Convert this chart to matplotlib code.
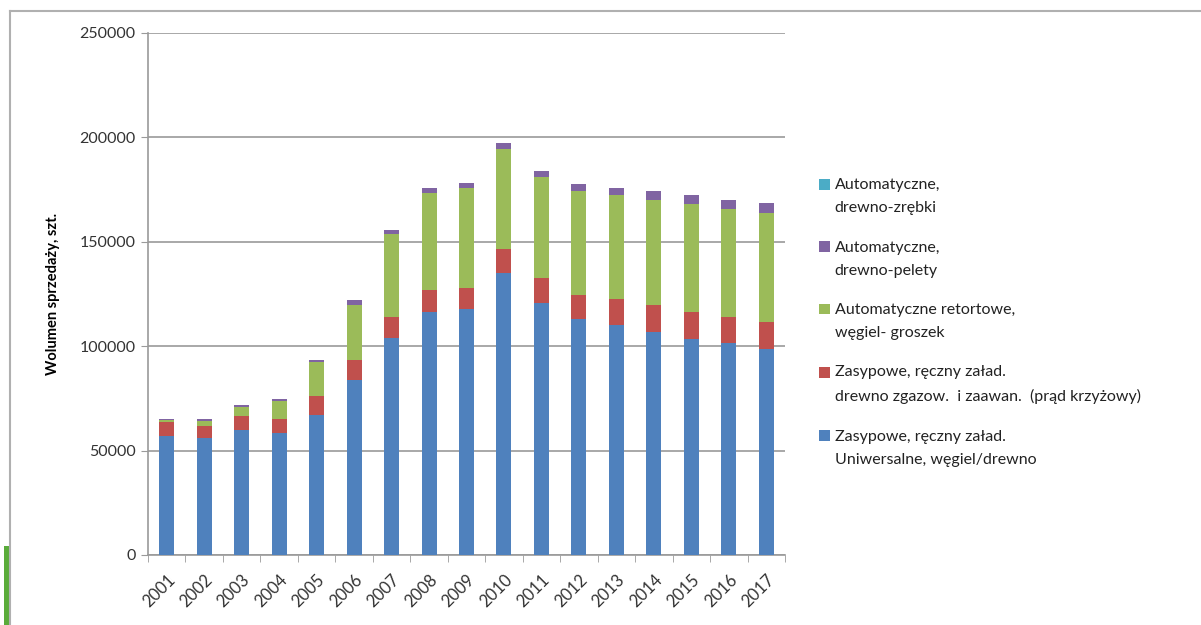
import matplotlib
matplotlib.use("Agg")
import matplotlib.pyplot as plt
import numpy as np
from matplotlib.lines import Line2D
from matplotlib.patches import Rectangle
from matplotlib.container import BarContainer
from matplotlib.legend_handler import HandlerPatch, update_from_first_child

plt.rcParams['font.family'] = ['Lato', 'DejaVu Sans']

years = [str(y) for y in range(2001, 2018)]

# sales volume per boiler type, units
uniwersalne = [57000, 56000, 60000, 58300, 67000, 84000, 103800, 116600, 117900,
               135000, 120600, 112900, 110200, 106700, 103500, 101700, 98600]
zgazowujace = [6900, 5800, 6700, 6700, 9200, 9400, 10400, 10400, 10200,
               11600, 12000, 11700, 12300, 13100, 13100, 12500, 13200]
retortowe = [700, 2600, 4200, 8800, 16100, 26400, 39600, 46600, 47600,
             47800, 48200, 49500, 50000, 50300, 51400, 51400, 52200]
pelety = [600, 800, 900, 1100, 1300, 2100, 1900, 2400, 2700,
          2900, 2900, 3500, 3500, 4000, 4200, 4500, 4500]
zrebki = [0, 0, 0, 0, 0, 0, 0, 0, 0, 0, 0, 0, 0, 0, 0, 0, 0]

series = [
    (uniwersalne, '#4F81BD', 'Zasypowe, ręczny załad.\nUniwersalne, węgiel/drewno'),
    (zgazowujace, '#C0504D', 'Zasypowe, ręczny załad.\ndrewno zgazow.  i zaawan.  (prąd krzyżowy)'),
    (retortowe, '#9BBB59', 'Automatyczne retortowe,\nwęgiel- groszek'),
    (pelety, '#8064A2', 'Automatyczne,\ndrewno-pelety'),
    (zrebki, '#4BACC6', 'Automatyczne,\ndrewno-zrębki'),
]

fig = plt.figure(figsize=(12.01, 6.25), dpi=100)
ax = fig.add_axes([148 / 1201, 70 / 625, 637 / 1201, 522 / 625])

x = np.arange(len(years))
bottom = np.zeros(len(years))
handles = []
for vals, color, label in series:
    b = ax.bar(x, vals, width=0.4, bottom=bottom, color=color, label=label, zorder=3)
    bottom += np.array(vals)
    handles.append(b)

ax.set_xlim(-0.5, len(years) - 0.5)
ax.set_ylim(0, 250000)
ax.set_yticks(np.arange(0, 250001, 50000))
ax.set_yticklabels([str(v) for v in range(0, 250001, 50000)], fontsize=11.5, color='#333333')
ax.yaxis.grid(True, color='#9a9a9a', linewidth=1.2, zorder=0)

# category ticks sit between the bars
ax.set_xticks(x)
ax.set_xticklabels(years, rotation=45, ha='right', rotation_mode='anchor', fontsize=12, color='#333333')
ax.tick_params(axis='x', length=0, pad=12)
ax.set_xticks(np.arange(-0.5, len(years), 1.0), minor=True)
ax.tick_params(axis='x', which='minor', length=5, color='#9a9a9a')
ax.tick_params(axis='y', length=5, color='#9a9a9a', pad=4)

for side in ['top', 'right']:
    ax.spines[side].set_visible(False)
ax.spines['left'].set_color('#9a9a9a')
ax.spines['bottom'].set_color('#9a9a9a')
ax.spines['left'].set_linewidth(1.2)
ax.spines['bottom'].set_linewidth(1.2)

ax.set_ylabel('Wolumen sprzedaży, szt.', fontsize=10.5, fontweight='bold', labelpad=14)


# legend squares next to the first line of each two-line label
def square_on_first_line(legend, orig_handle, xdescent, ydescent, width, height, fontsize):
    return Rectangle((-xdescent, -ydescent + 0.78 * fontsize), width, height)


leg = fig.legend(handles[::-1], [s[2] for s in series[::-1]], loc='upper left',
                 bbox_to_anchor=(805 / 1201, 1 - 164 / 625), frameon=False, fontsize=11.5,
                 handlelength=0.65, handleheight=0.65, handletextpad=0.3, labelspacing=1.6,
                 handler_map={BarContainer: HandlerPatch(patch_func=square_on_first_line,
                                                         update_func=update_from_first_child)})
for t in leg.get_texts():
    t.set_linespacing(1.8)
    t.set_color('#222222')

# slide frame around the chart
fig.add_artist(Line2D([10 / 1201, 10 / 1201], [0, 1 - 11 / 625], transform=fig.transFigure,
                      color='#b0b0b0', linewidth=1.5))
fig.add_artist(Line2D([10 / 1201, 1], [1 - 11 / 625, 1 - 11 / 625], transform=fig.transFigure,
                      color='#b0b0b0', linewidth=1.5))
fig.add_artist(Rectangle((4 / 1201, 0), 6 / 1201, 79 / 625, transform=fig.transFigure,
                         color='#5aab3a', linewidth=0))

fig.savefig('out.png', dpi=100)
